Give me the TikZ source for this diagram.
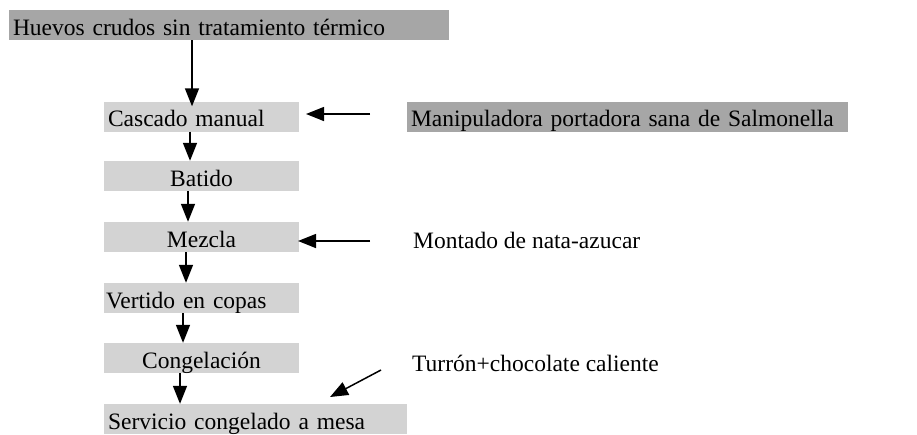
\documentclass[tikz,border=0pt]{standalone}
\usepackage{fontspec}
\setmainfont{Liberation Serif}
\usetikzlibrary{arrows.meta}
\definecolor{darkbox}{HTML}{A6A6A6}
\definecolor{lightbox}{HTML}{D3D3D3}
\tikzset{
  txt/.style={font=\fontsize{23.5}{26}\selectfont},
  boxbase/.style={txt, minimum height=30pt, inner sep=0pt, text height=25pt, text depth=5pt},
  lbox/.style={boxbase, fill=lightbox, minimum width=195pt},
  dbox/.style={boxbase, fill=darkbox},
  plain/.style={txt, inner sep=0pt},
  arr/.style={line width=1.5pt, -{Triangle[length=18pt,width=14pt]}},
}
\begin{document}
\begin{tikzpicture}[x=1pt,y=-1pt]
\useasboundingbox (0,0) rectangle (917,434);
% boxes
\node[dbox, minimum width=440pt, text width=432pt, align=left] (hue) at (229,25) {Huevos crudos sin tratamiento térmico};
\node[lbox, text width=187pt, align=left] (cas) at (201.5,116.5) {Cascado manual};
\node[lbox] (bat) at (201.5,176) {Batido};
\node[lbox] (mez) at (201.5,237) {Mezcla};
\node[lbox, text width=191pt, align=left] (ver) at (201.5,298) {Vertido en copas};
\node[lbox] (con) at (201.5,358) {Congelación};
\node[lbox, minimum width=303pt, text width=295pt, align=left] (ser) at (255.5,419) {Servicio congelado a mesa};
\node[dbox, minimum width=441pt, text width=433pt, align=left] (man) at (627.5,116.5) {Manipuladora portadora sana de Salmonella};
\node[plain, anchor=west] (mon) at (413,240) {Montado de nata-azucar};
\node[plain, anchor=west] (tur) at (412,363) {Turrón+chocolate caliente};
\coordinate (a1) at (370,114);
\coordinate (a1t) at (306,114);
\coordinate (a2) at (370,241);
\coordinate (a2t) at (298,241);
\coordinate (a3) at (381,370);
\coordinate (a3t) at (330,397);
% vertical arrows
\draw[arr] (hue.south -| 192,0) -- ([yshift=-5pt]cas.north -| 192,0);
\draw[arr] (cas.south -| 190,0) -- (bat.north -| 190,0);
\draw[arr] (bat.south -| 188,0) -- (mez.north -| 188,0);
\draw[arr] (mez.south -| 186,0) -- (ver.north -| 186,0);
\draw[arr] (ver.south -| 183,0) -- (con.north -| 183,0);
\draw[arr] (con.south -| 180,0) -- (ser.north -| 180,0);
% side arrows
\draw[arr] (a1) -- (a1t);
\draw[arr] (a2) -- (a2t);
\draw[arr] (a3) -- (a3t);
\end{tikzpicture}
\end{document}
